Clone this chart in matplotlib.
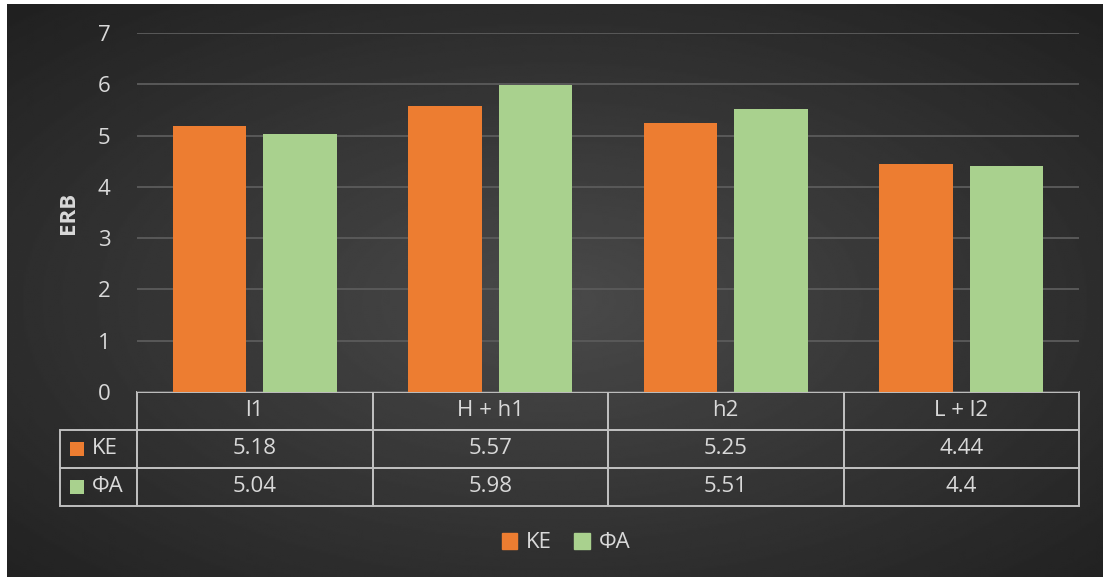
import numpy as np
import matplotlib.pyplot as plt
from matplotlib.patches import Rectangle, Patch
from matplotlib.table import Table

# data
categories = ['l1', 'H + h1', 'h2', 'L + l2']
series = ['KE', 'ΦA']
ke = [5.18, 5.57, 5.25, 4.44]
fa = [5.04, 5.98, 5.51, 4.4]
yticks = [0, 1, 2, 3, 4, 5, 6, 7]
colors = ['#ED7D31', '#A9D18E']

txt = '#d9d9d9'
fs = 16
plt.rcParams['font.family'] = ['Open Sans', 'DejaVu Sans']

W, H = 1103, 577
fig = plt.figure(figsize=(W / 100, H / 100), dpi=100, facecolor='white')

# dark radial gradient background (white strip on left and top like the screenshot)
bg = fig.add_axes([7 / W, 0, 1 - 7 / W, 1 - 4 / H])
yy, xx = np.mgrid[0:1:300j, 0:1:600j]
r = np.sqrt(((xx - 0.5) / 0.5) ** 2 + ((yy - 0.52) / 0.5) ** 2) / np.sqrt(2)
shade = 0x4a - (0x4a - 0x21) * np.clip(r, 0, 1)
bg.imshow(shade, cmap='gray', vmin=0, vmax=255, aspect='auto',
          extent=[0, 1, 0, 1], interpolation='bilinear')
bg.axis('off')

ax = fig.add_axes([137 / W, 1 - 392 / H, 942 / W, 359 / H])
ax.set_facecolor('none')

x = np.arange(len(categories))
bw = 0.313
ax.bar(x - 0.192, ke, bw, color=colors[0], zorder=3)
ax.bar(x + 0.192, fa, bw, color=colors[1], zorder=3)

ax.set_xlim(-0.5, len(categories) - 0.5)
ax.set_ylim(0, 7)
ax.set_yticks(yticks)
ax.set_xticks([])
ax.grid(axis='y', color='#595959', linewidth=1.4)
ax.set_axisbelow(True)
for s in ax.spines.values():
    s.set_visible(False)
ax.tick_params(axis='y', length=0, pad=19, labelsize=fs, labelcolor=txt)

ax.set_ylabel('ERB', fontsize=16, fontweight='bold', color=txt)
ax.yaxis.set_label_coords(-0.062, 0.5)

# data table under the axis (bbox covers the value grid, label column sits left of it)
tbl = Table(ax, bbox=[0, -114 / 359, 1, 114 / 359])
cw, lw_, rh = 0.25, 77 / 942, 1 / 3
rows = [[str(v) for v in ke], [str(v) for v in fa]]
for j, cat in enumerate(categories):
    tbl.add_cell(0, j, cw, rh, text=cat, loc='center')
for i, name in enumerate(series):
    c = tbl.add_cell(i + 1, -1, lw_, rh, text=name, loc='left')
    c.PAD = 0.42
    for j, v in enumerate(rows[i]):
        tbl.add_cell(i + 1, j, cw, rh, text=v, loc='center')
tbl.auto_set_font_size(False)
for cell in tbl.get_celld().values():
    cell.set_edgecolor('#bfbfbf')
    cell.set_linewidth(1.4)
    cell.set_facecolor('none')
    cell.get_text().set_color(txt)
    cell.get_text().set_fontsize(fs)
ax.add_table(tbl)

# little colour keys in the row label cells
fig.canvas.draw()
for i, c in enumerate(colors):
    bb = tbl[i + 1, -1].get_window_extent(fig.canvas.get_renderer())
    sq = 14
    fig.add_artist(Rectangle(((bb.x0 + 10) / W, (bb.y0 + bb.height / 2 - sq / 2) / H),
                             sq / W, sq / H, transform=fig.transFigure,
                             facecolor=c, edgecolor='none'))

fig.legend(handles=[Patch(color=c) for c in colors], labels=series,
           loc='center', bbox_to_anchor=(566 / W, 1 - 543 / H), ncol=2,
           frameon=False, handlelength=0.7, handleheight=0.7,
           handletextpad=0.4, columnspacing=1.0, fontsize=fs, labelcolor=txt)

fig.savefig('out.png', dpi=100, facecolor=fig.get_facecolor())
